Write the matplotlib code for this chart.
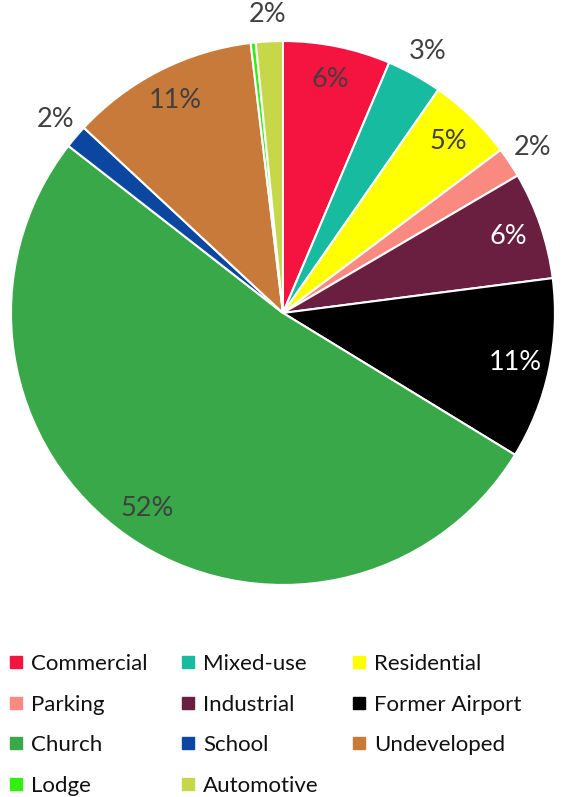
import numpy as np
import matplotlib
matplotlib.use('Agg')
import matplotlib.pyplot as plt
from matplotlib.lines import Line2D

plt.rcParams['font.family'] = ['Lato', 'DejaVu Sans']

categories = ['Commercial', 'Mixed-use', 'Residential', 'Parking', 'Industrial',
              'Former Airport', 'Church', 'School', 'Undeveloped', 'Lodge', 'Automotive']
shares = [6.4, 3.3, 5.1, 1.8, 6.4, 10.8, 51.9, 1.4, 11.2, 0.3, 1.6]
pct_labels = ['6%', '3%', '5%', '2%', '6%', '11%', '52%', '2%', '11%', '', '2%']
colors = ['#f5133f', '#17bba0', '#ffff00', '#fa8a80', '#6a1e40', '#000000',
          '#38a848', '#0b47a0', '#c87a3a', '#33ee11', '#c6d84a']
outside = [False, True, False, True, False, False, False, True, False, False, True]
white_text = [False, False, False, False, True, True, False, False, False, False, False]

fig = plt.figure(figsize=(5.69, 7.97), dpi=100)
ax = fig.add_axes([0.0193, 0.266, 0.956, 0.6826])

wedges, _ = ax.pie(shares, colors=colors, startangle=90, counterclock=False,
                   wedgeprops=dict(edgecolor='white', linewidth=1.5))
ax.set_xlim(-1, 1)
ax.set_ylim(-1, 1)
ax.set_aspect('equal')

for w, lab, out, wt in zip(wedges, pct_labels, outside, white_text):
    if not lab:
        continue
    ang = np.deg2rad((w.theta1 + w.theta2) / 2)
    r = 1.10 if out else 0.875
    col = 'white' if wt else '#404040'
    ax.text(r * np.cos(ang), r * np.sin(ang), lab, ha='center', va='center',
            fontsize=19.5, color=col)

# row-major order for the 3-column legend
order = [0, 3, 6, 9, 1, 4, 7, 10, 2, 5, 8]
handles = [Line2D([], [], marker='s', linestyle='none', markersize=8,
                  markerfacecolor=colors[i], markeredgecolor=colors[i]) for i in order]
labels = [categories[i] for i in order]
fig.legend(handles, labels, ncol=3, loc='upper left', bbox_to_anchor=(0.0, 1 - 645 / 797),
           frameon=False, fontsize=16, handlelength=0.6, handletextpad=0.4,
           columnspacing=1.5, labelspacing=0.93, borderaxespad=0, labelcolor='#111111')

fig.savefig('out.png', dpi=100)
